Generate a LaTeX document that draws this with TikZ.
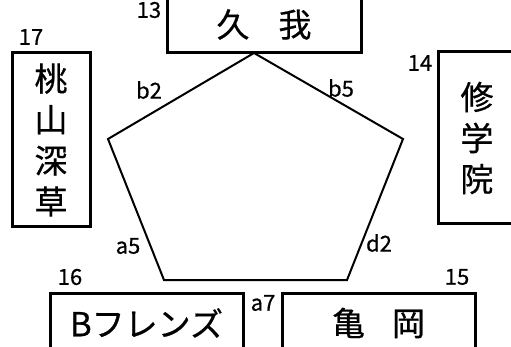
\documentclass[tikz,border=0pt]{standalone}
\usepackage{fontspec}
\setmainfont[FakeBold=0.6,AutoFakeBold=0.6]{Noto Sans CJK JP}
\usetikzlibrary{positioning}

\begin{document}
\begin{tikzpicture}[x=1pt,y=-1pt,
	stbox/.style={draw,line width=3pt,inner sep=0pt,font=\fontsize{33}{41}\selectfont,align=center},
	num/.style={inner sep=0pt,font=\fontsize{22}{22}\selectfont},
	edge/.style={line width=2pt,line join=miter}
	]
	\useasboundingbox (0,0) rectangle (511,347);
	% stations
	\node[stbox,minimum width=194pt,minimum height=57pt] (kuga) at (264,24.5) {久\hspace{29pt}我};
	\node[stbox,minimum width=78pt,minimum height=174pt] (momoyama) at (51,140) {桃\\山\\深\\草};
	\node[stbox,minimum width=78pt,minimum height=172pt] (shugakuin) at (477,138) {修\\学\\院};
	\node[stbox,minimum width=193pt,minimum height=60pt] (bfriends) at (146.5,323) {Bフレンズ};
	\node[stbox,minimum width=193pt,minimum height=60pt] (kameoka) at (378.5,323) {亀\hspace{27pt}岡};
	% pentagon
	\coordinate (p1) at (254,53);
	\coordinate (p2) at (403,139);
	\coordinate (p3) at (347,280);
	\coordinate (p4) at (164,280);
	\coordinate (p5) at (108,139);
	\draw[edge] (p1) -- (p2) -- (p3) -- (p4) -- (p5) -- cycle;
	% numbers
	\node[num] (n13) at (149,10) {13};
	\node[num] (n14) at (420,63) {14};
	\node[num] (n15) at (457,277) {15};
	\node[num] (n16) at (70,277) {16};
	\node[num] (n17) at (31,37) {17};
	% edge labels
	\node[num] (b2) at (149,90) {b2};
	\node[num] (b5) at (341,88) {b5};
	\node[num] (d2) at (379,243) {d2};
	\node[num] (a5) at (128,246) {a5};
	\node[num] (a7) at (263,303) {a7};
\end{tikzpicture}
\end{document}
